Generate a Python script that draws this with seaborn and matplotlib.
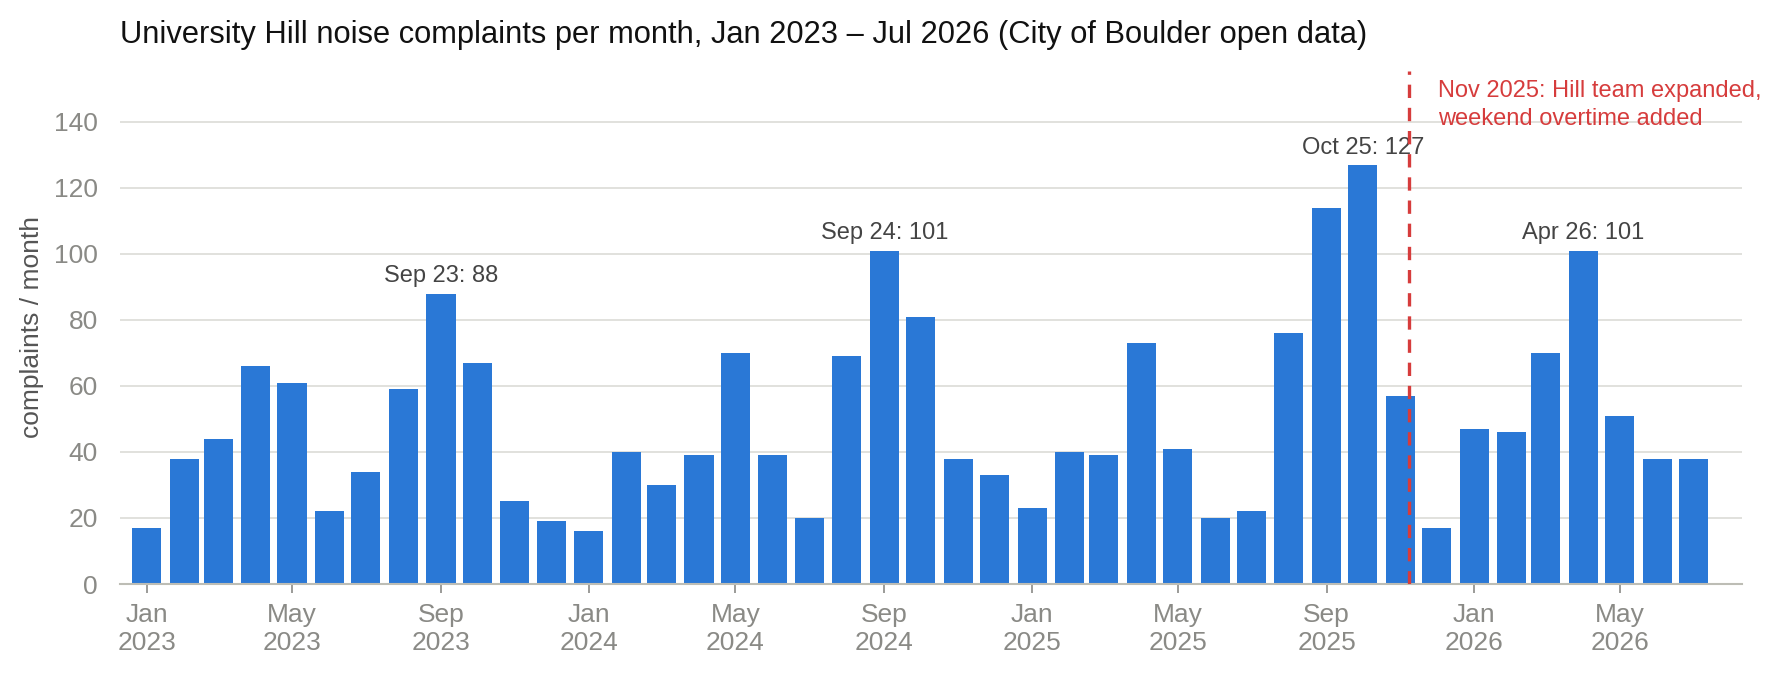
import matplotlib
matplotlib.use('Agg')
import matplotlib.pyplot as plt
import matplotlib.dates as mdates
import numpy as np
import pandas as pd
import seaborn as sns

# monthly complaint counts, Jan 2023 .. Jul 2026
months = pd.date_range('2023-01-01', '2026-07-01', freq='MS')
complaints = [17, 38, 44, 66, 61, 22, 34, 59, 88, 67, 25, 19,
              16, 40, 30, 39, 70, 39, 20, 69, 101, 81, 38, 33,
              23, 40, 39, 73, 41, 20, 22, 76, 114, 127, 57, 17,
              47, 46, 70, 101, 51, 38, 38]

peak_months = ['2023-09-01', '2024-09-01', '2025-10-01', '2026-04-01']
peak_labels = ['Sep 23', 'Sep 24', 'Oct 25', 'Apr 26']

event_date = '2025-11-08'
event_text = 'Nov 2025: Hill team expanded,\nweekend overtime added'

title = ('University Hill noise complaints per month, Jan 2023 \u2013 Jul 2026 '
         '(City of Boulder open data)')

df = pd.DataFrame({'month': mdates.date2num(months), 'complaints': complaints})

sns.set_theme(style='white')
plt.rcParams['font.family'] = ['Liberation Sans', 'DejaVu Sans']

W, H = 1783, 680
fig = plt.figure(figsize=(W / 100, H / 100), dpi=100)
ax = fig.add_axes([120 / W, 1 - 584 / H, (1742 - 120) / W, (584 - 70.7) / H])

sns.barplot(data=df, x='month', y='complaints', native_scale=True,
            width=24 / 28, color='#2a78d6', saturation=1, errorbar=None,
            linewidth=0, ax=ax, zorder=2)

ax.set_xlim(mdates.date2num(pd.Timestamp('2022-12-10')),
            mdates.date2num(pd.Timestamp('2026-08-10')))
ax.set_ylim(0, 155.5)

# axes styling
ax.set_yticks(np.arange(0, 141, 20))
ax.grid(axis='y', color='#dcdcd7', lw=1.2, zorder=0)
ax.grid(axis='x', visible=False)
ax.set_axisbelow(True)
for s in ['left', 'top', 'right']:
    ax.spines[s].set_visible(False)
ax.spines['bottom'].set_color('#bdbdb5')
ax.spines['bottom'].set_linewidth(1.5)

ax.xaxis.set_major_locator(mdates.MonthLocator(bymonth=[1, 5, 9]))
ax.xaxis.set_major_formatter(mdates.DateFormatter('%b\n%Y'))
ax.tick_params(axis='x', length=6.5, width=1.2, color='#8a8a86', pad=7,
               labelsize=19, labelcolor='#8a8a86', bottom=True)
ax.tick_params(axis='y', length=0, pad=16, labelsize=19, labelcolor='#8a8a86')

ax.set_xlabel('')
ax.set_ylabel('complaints / month', fontsize=19, color='#555555')
ax.yaxis.set_label_coords((44 - 120) / (1742 - 120), 0.5)

# peak labels
vals = dict(zip(months, complaints))
for m, lab in zip(peak_months, peak_labels):
    v = vals[pd.Timestamp(m)]
    ax.annotate(f'{lab}: {v}', xy=(mdates.date2num(pd.Timestamp(m)), v),
                xytext=(0, 8), textcoords='offset points', ha='center',
                va='baseline', fontsize=17, color='#444444', zorder=3)

# event marker
ex = mdates.date2num(pd.Timestamp(event_date))
ax.axvline(ex, color='#d63c3c', lw=2.4, dashes=(4, 2.95), zorder=4)
ax.annotate(event_text, xy=(ex, 1), xycoords=('data', 'axes fraction'),
            xytext=(21, -7), textcoords='offset points', ha='left', va='top',
            fontsize=17, color='#d63c3c', linespacing=1.3)

fig.text(120 / W, 1 - 42.7 / H, title, ha='left', va='baseline',
         fontsize=22.2, color='#111111')

fig.savefig('out.png', dpi=100)
